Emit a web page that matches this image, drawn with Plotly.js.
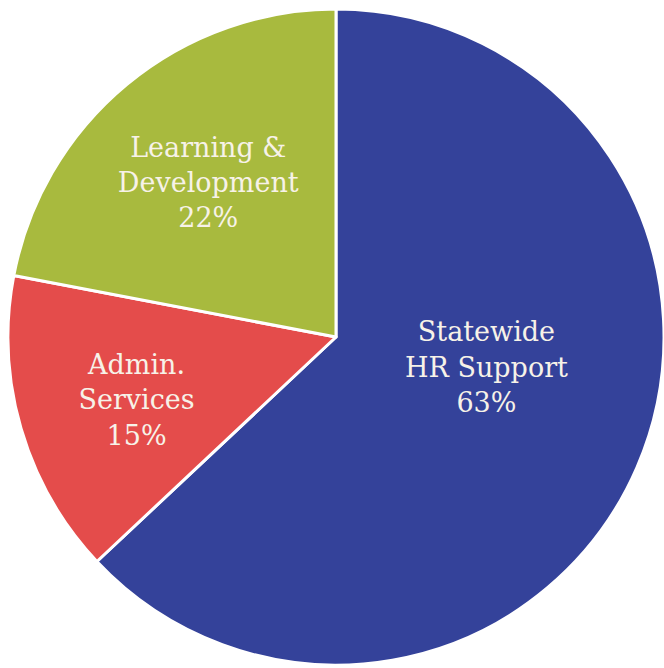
<!DOCTYPE html>
<html>
<head>
<meta charset="utf-8">
<script src="https://cdn.plot.ly/plotly-3.0.1.min.js"></script>
<style>html,body{margin:0;padding:0;background:#fff;}#chart{width:664px;height:668px;}</style>
</head>
<body>
<div id="chart"></div>
<script>
const categories = ["Statewide<br>HR Support", "Admin.<br>Services", "Learning &<br>Development"];
const shares = [63, 15, 22];
const sliceColors = ["#34429a", "#e44c4b", "#a8ba3e"];

// text placement nudges (layout only): blank lines / leading spaces
const NB = "\u00a0";
const templates = [
  "%{label}<br>%{value}%<br>" + NB + "<br>" + NB,
  NB.repeat(4) + "Admin.<br>" + NB.repeat(4) + "Services<br>" + NB.repeat(4) + "%{value}%",
  "%{label}<br>%{value}%"
];

const trace = {
  type: "pie",
  labels: categories,
  values: shares,
  sort: false,
  direction: "clockwise",
  rotation: 0,
  marker: {colors: sliceColors, line: {color: "#ffffff", width: 3}},
  texttemplate: templates,
  textposition: "inside",
  insidetextorientation: "horizontal",
  insidetextfont: {family: "DejaVu Serif", size: 27, color: "#f7f2e8"},
  hoverinfo: "none",
  showlegend: false
};

const layout = {
  width: 664, height: 668,
  margin: {l: 8, r: 0, t: 6, b: 0},
  paper_bgcolor: "#ffffff",
  showlegend: false
};

Plotly.newPlot("chart", [trace], layout, {displayModeBar: false, staticPlot: true});
</script>
</body>
</html>
